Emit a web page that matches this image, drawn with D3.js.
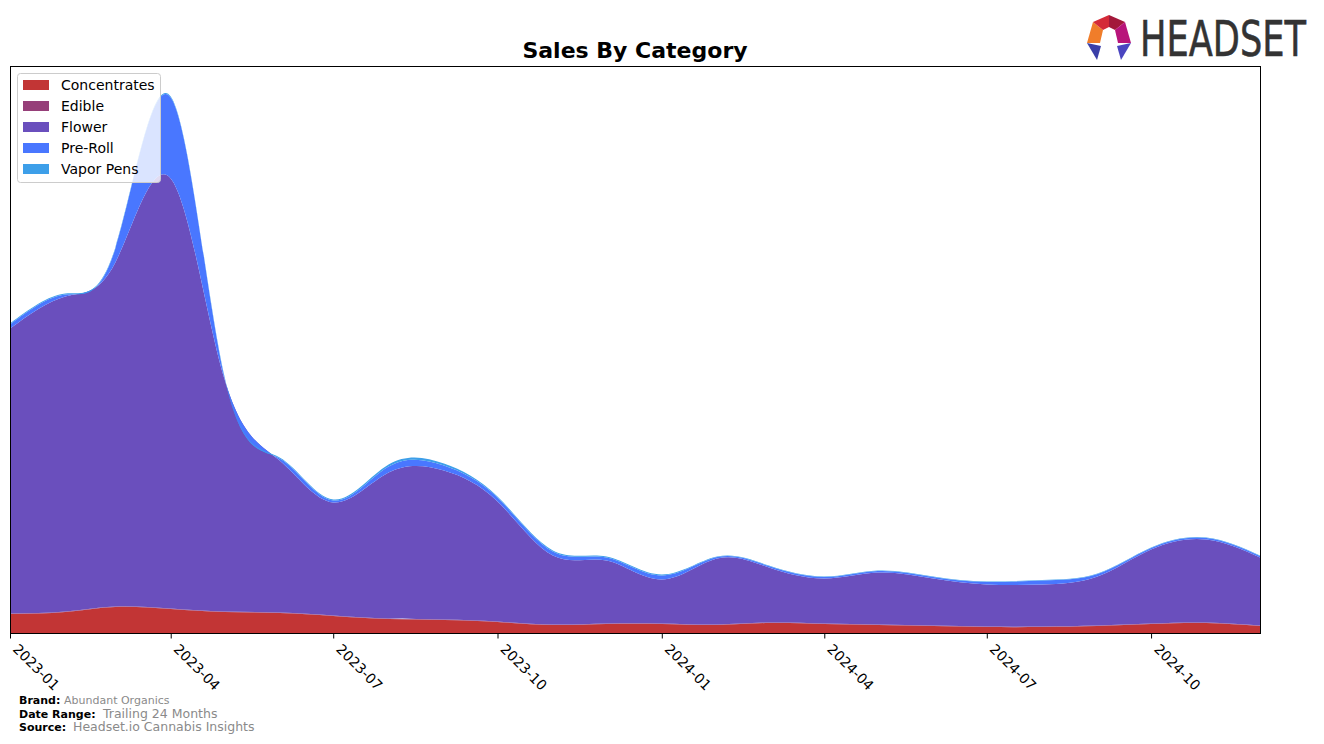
<!DOCTYPE html>
<html>
<head>
<meta charset="utf-8">
<script src="https://cdn.jsdelivr.net/npm/d3@7"></script>
<style>
  body { margin: 0; background: #fff; }
  text { font-family: "DejaVu Sans", sans-serif; }
</style>
</head>
<body>
<div id="chart"></div>
<script>
// monthly sales by category (arbitrary units)
var months = ["2023-01","2023-02","2023-03","2023-04","2023-05","2023-06","2023-07","2023-08",
              "2023-09","2023-10","2023-11","2023-12","2024-01","2024-02","2024-03","2024-04",
              "2024-05","2024-06","2024-07","2024-08","2024-09","2024-10","2024-11","2024-12"];
var categories = ["Concentrates", "Edible", "Flower", "Pre-Roll", "Vapor Pens"];

var concentrates = [19, 21, 26, 24, 21, 20, 17, 14, 13, 11, 8, 9, 9, 8, 10, 9, 8, 7, 6, 6, 7, 9, 10, 7];
var edible       = [0.6, 0.6, 0.6, 0.6, 0.6, 0.6, 0.6, 0.5, 0.5, 0.5, 0.5, 0.5, 0.5, 0.5, 0.5, 0.5, 0.5, 0.5, 0.5, 0.5, 0.5, 0.5, 0.5, 0.5];
var flower       = [285, 315, 344, 430, 233, 152, 113, 146, 149, 120, 69, 63, 44, 66, 55, 45, 52, 47, 42, 42, 49, 74, 83, 68];
var preRoll      = [4, 2, 14, 81, 2, 2, 2, 6, 5, 4, 4, 3, 4, 1.5, 1.5, 1.5, 1.5, 1.5, 2.5, 4, 2.5, 1.5, 1.5, 1.5];
var vaporPens    = [1, 1, 1, 1, 1, 1, 1, 2, 2, 1, 1, 1, 1, 0.5, 0.5, 0.5, 0.5, 0.5, 0.5, 0.5, 0.5, 0.5, 0.5, 0.5];
var tickMonths = ["2023-01","2023-04","2023-07","2023-10","2024-01","2024-04","2024-07","2024-10"];

var colors = ["#c23535", "#963f79", "#6a4fbd", "#4977ff", "#3d9fe9"];

var width = 1324, height = 744;
var plotLeft = 10, plotRight = 1260, plotTop = 66, plotBottom = 633;

var parseMonth = d3.timeParse("%Y-%m");
var series = [concentrates, edible, flower, preRoll, vaporPens];
var table = months.map(function(m, i) {
  var row = { date: parseMonth(m) };
  categories.forEach(function(c, j) { row[c] = series[j][i]; });
  return row;
});

var svg = d3.select("#chart").append("svg")
    .attr("width", width)
    .attr("height", height);

var x = d3.scaleTime()
    .domain(d3.extent(table, function(d) { return d.date; }))
    .range([plotLeft, plotRight]);

var y = d3.scaleLinear()
    .domain([0, 567])
    .range([plotBottom, plotTop]);

var stack = d3.stack().keys(categories);
var layers = stack(table);

var area = d3.area()
    .curve(d3.curveNatural)
    .x(function(d) { return x(d.data.date); })
    .y0(function(d) { return y(d[0]); })
    .y1(function(d) { return y(d[1]); });

svg.append("defs").append("clipPath").attr("id", "plotclip")
  .append("rect")
    .attr("x", plotLeft).attr("y", plotTop)
    .attr("width", plotRight - plotLeft).attr("height", plotBottom - plotTop);

svg.append("g")
    .attr("clip-path", "url(#plotclip)")
  .selectAll("path")
  .data(layers)
  .enter().append("path")
    .attr("d", area)
    .attr("fill", function(d, i) { return colors[i]; });

// frame
svg.append("rect")
    .attr("x", plotLeft + 0.5).attr("y", plotTop + 0.5)
    .attr("width", plotRight - plotLeft).attr("height", plotBottom - plotTop)
    .attr("fill", "none")
    .attr("stroke", "#000")
    .attr("stroke-width", 1);

// x axis
var xAxis = svg.append("g")
    .attr("transform", "translate(0," + (plotBottom + 0.5) + ")")
    .call(d3.axisBottom(x)
      .tickValues(tickMonths.map(parseMonth))
      .tickFormat(d3.timeFormat("%Y-%m"))
      .tickSize(5).tickSizeOuter(0));
xAxis.select(".domain").remove();
xAxis.selectAll("text")
    .style("font-size", "14px")
    .style("font-family", "DejaVu Sans")
    .attr("fill", "#000")
    .attr("text-anchor", "start")
    .attr("x", 0).attr("y", 0)
    .attr("dy", "0.75em")
    .attr("transform", "translate(9,9) rotate(45)");

// title
svg.append("text")
    .attr("x", 635).attr("y", 58)
    .attr("text-anchor", "middle")
    .style("font-size", "22px")
    .style("font-weight", "bold")
    .text("Sales By Category");

// legend
var legend = svg.append("g");
legend.append("rect")
    .attr("x", 17.5).attr("y", 73.5)
    .attr("width", 143).attr("height", 109)
    .attr("rx", 3)
    .attr("fill", "#fff")
    .attr("fill-opacity", 0.8)
    .attr("stroke", "#cccccc");
var item = legend.selectAll("g.item")
    .data(categories)
  .enter().append("g")
    .attr("class", "item")
    .attr("transform", function(d, i) { return "translate(23," + (85 + i * 21) + ")"; });
item.append("rect")
    .attr("x", 0).attr("y", -5)
    .attr("width", 26).attr("height", 10)
    .attr("fill", function(d, i) { return colors[i]; });
item.append("text")
    .attr("x", 38).attr("y", 0)
    .attr("dy", "0.35em")
    .style("font-size", "14px")
    .text(function(d) { return d; });

// footer
var foot = [
  { label: "Brand:", value: "Abundant Organics", y: 704, vx: 64, vs: 11 },
  { label: "Date Range:", value: "Trailing 24 Months", y: 718, vx: 103, vs: 12.5 },
  { label: "Source:", value: "Headset.io Cannabis Insights", y: 731, vx: 73, vs: 12.5 }
];
foot.forEach(function(f) {
  svg.append("text")
      .attr("x", 19).attr("y", f.y)
      .style("font-size", "11px")
      .style("font-weight", "bold")
      .text(f.label);
  svg.append("text")
      .attr("x", f.vx).attr("y", f.y)
      .style("font-size", f.vs + "px")
      .attr("fill", "#8a8a8a")
      .text(f.value);
});

// logo
var logo = svg.append("g");
var pieces = [
  { pts: [[1087,43],[1101,46],[1097,60]], c: "#3a3fa8" },
  { pts: [[1087,43],[1093,22],[1103,30],[1100,43]], c: "#f07d2a" },
  { pts: [[1093,22],[1109,15],[1109,27],[1103,30]], c: "#d42a38" },
  { pts: [[1109,15],[1125,22],[1115,30],[1109,27]], c: "#a3183a" },
  { pts: [[1125,22],[1131,43],[1118,43],[1115,30]], c: "#b8147a" },
  { pts: [[1131,43],[1121,60],[1117,46]], c: "#4a45c0" }
];
logo.selectAll("polygon")
    .data(pieces)
  .enter().append("polygon")
    .attr("points", function(d) { return d.pts.map(function(p) { return p.join(","); }).join(" "); })
    .attr("fill", function(d) { return d.c; });

var word = logo.append("g").attr("transform", "translate(1140,56)");
var wordText = word.append("text")
    .attr("x", 0).attr("y", 0)
    .style("font-family", "'Liberation Sans Narrow', 'DejaVu Sans Condensed', sans-serif")
    .style("font-size", "36px")
    .attr("fill", "#333")
    .attr("stroke", "#333")
    .attr("stroke-width", 0.4)
    .text("HEADSET");
var natural = wordText.node().getComputedTextLength();
wordText.attr("transform", "scale(" + (166 / natural) + ",1.4)");
</script>
</body>
</html>
